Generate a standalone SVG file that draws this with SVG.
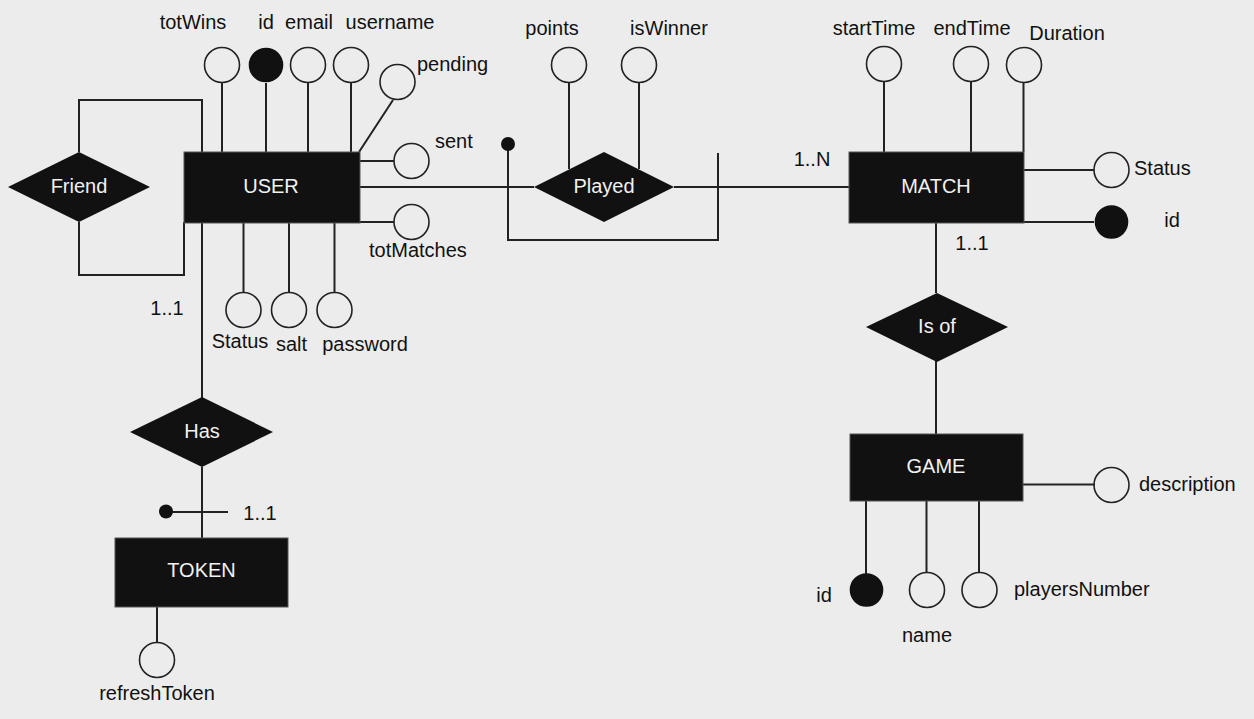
<svg xmlns="http://www.w3.org/2000/svg" width="1254" height="719" viewBox="0 0 1254 719">
<style>
.ln{stroke:#222;stroke-width:2;fill:none}
.at{fill:none;stroke:#222;stroke-width:1.6}
.key{fill:#111;stroke:#111;stroke-width:1.6}
.ent{fill:#111;stroke:#555;stroke-width:1}
.rel{fill:#111}
.w{font-family:"Liberation Sans",Arial,sans-serif;font-size:20px;fill:#f2f2f2;text-anchor:middle;dominant-baseline:central}
.t{font-family:"Liberation Sans",Arial,sans-serif;font-size:20px;fill:#111}
.m{text-anchor:middle}
</style>
<rect x="0" y="0" width="1254" height="719" fill="#ececec"/>
<g id="connectors">
<polyline class="ln" points="79,152 79,100 202,100 202,152"/>
<polyline class="ln" points="79,222 79,275 184,275 184,222"/>
<line class="ln" x1="202" y1="223" x2="202" y2="398"/>
<line class="ln" x1="202" y1="467" x2="202" y2="538"/>
<line class="ln" x1="166" y1="512" x2="228" y2="512"/>
<line class="ln" x1="360" y1="187" x2="534" y2="187"/>
<line class="ln" x1="674" y1="187" x2="849" y2="187"/>
<polyline class="ln" points="508,144 508,240 718,240 718,153"/>
<line class="ln" x1="936" y1="223" x2="936" y2="293"/>
<line class="ln" x1="936" y1="361" x2="936" y2="434"/>
</g>
<g id="friend">
<polygon class="rel" points="8,187 79,152 150,187 79,222"/>
<text class="w" x="79" y="186">Friend</text>
</g>
<g id="user">
<line class="ln" x1="222" y1="83" x2="222" y2="152"/>
<line class="ln" x1="266" y1="83" x2="266" y2="152"/>
<line class="ln" x1="308" y1="83" x2="308" y2="152"/>
<line class="ln" x1="351" y1="83" x2="351" y2="152"/>
<line class="ln" x1="359" y1="152" x2="393" y2="100"/>
<line class="ln" x1="360" y1="161" x2="394" y2="161"/>
<line class="ln" x1="360" y1="222" x2="394" y2="222"/>
<line class="ln" x1="243.5" y1="223" x2="243.5" y2="292"/>
<line class="ln" x1="289" y1="223" x2="289" y2="292"/>
<line class="ln" x1="334.5" y1="223" x2="334.5" y2="292"/>
<rect class="ent" x="184" y="152" width="176" height="71"/>
<text class="w" x="271" y="186">USER</text>
<circle class="at" cx="222" cy="65" r="17.5"/>
<circle class="key" cx="266" cy="65" r="16.5"/>
<circle class="at" cx="308" cy="65" r="17.5"/>
<circle class="at" cx="351" cy="65" r="17.5"/>
<circle class="at" cx="397.5" cy="82" r="17.5"/>
<circle class="at" cx="411.5" cy="161" r="17.5"/>
<circle class="at" cx="411.5" cy="222" r="17.5"/>
<circle class="at" cx="243.5" cy="310" r="17.5"/>
<circle class="at" cx="289" cy="310" r="17.5"/>
<circle class="at" cx="334.5" cy="310" r="17.5"/>
<text class="t m" x="193" y="29">totWins</text>
<text class="t m" x="266" y="29">id</text>
<text class="t m" x="309" y="29">email</text>
<text class="t m" x="390" y="29">username</text>
<text class="t" x="417" y="71">pending</text>
<text class="t" x="435" y="148">sent</text>
<text class="t" x="369" y="257">totMatches</text>
<text class="t m" x="240" y="348">Status</text>
<text class="t m" x="291.5" y="351">salt</text>
<text class="t m" x="365" y="351">password</text>
<text class="t m" x="167" y="315">1..1</text>
</g>
<g id="has">
<polygon class="rel" points="130,432 202,397 273,432 202,467"/>
<text class="w" x="202" y="431">Has</text>
<circle cx="166" cy="511.5" r="7" fill="#111"/>
<text class="t m" x="260" y="520">1..1</text>
</g>
<g id="token">
<line class="ln" x1="157" y1="607" x2="157" y2="642"/>
<rect class="ent" x="115" y="538" width="173" height="69"/>
<text class="w" x="201.5" y="570">TOKEN</text>
<circle class="at" cx="157" cy="660" r="17.5"/>
<text class="t m" x="157" y="700">refreshToken</text>
</g>
<g id="played">
<line class="ln" x1="569" y1="83" x2="569" y2="169"/>
<line class="ln" x1="639" y1="83" x2="639" y2="169"/>
<polygon class="rel" points="534,187 604,152 674,187 604,222"/>
<text class="w" x="604" y="186">Played</text>
<circle class="at" cx="569" cy="65" r="17.5"/>
<circle class="at" cx="639" cy="65" r="17.5"/>
<text class="t m" x="552" y="35">points</text>
<text class="t m" x="669" y="35">isWinner</text>
<circle cx="508" cy="144" r="7" fill="#111"/>
<text class="t m" x="812" y="166">1..N</text>
</g>
<g id="match">
<line class="ln" x1="884" y1="82" x2="884" y2="152"/>
<line class="ln" x1="971" y1="82" x2="971" y2="152"/>
<line class="ln" x1="1023.5" y1="83" x2="1023.5" y2="152"/>
<line class="ln" x1="1024" y1="170" x2="1094" y2="170"/>
<line class="ln" x1="1024" y1="222" x2="1094" y2="222"/>
<rect class="ent" x="849" y="152" width="175" height="71"/>
<text class="w" x="936" y="186">MATCH</text>
<circle class="at" cx="884" cy="64" r="17.5"/>
<circle class="at" cx="971" cy="64" r="17.5"/>
<circle class="at" cx="1024" cy="65" r="17.5"/>
<circle class="at" cx="1111.5" cy="170" r="17.5"/>
<circle class="key" cx="1111.5" cy="222" r="16"/>
<text class="t m" x="874" y="35">startTime</text>
<text class="t m" x="972" y="35">endTime</text>
<text class="t m" x="1067" y="40">Duration</text>
<text class="t" x="1134" y="175">Status</text>
<text class="t m" x="1172" y="227">id</text>
<text class="t m" x="972" y="250">1..1</text>
</g>
<g id="isof">
<polygon class="rel" points="866,327 937,293 1008,327 937,362"/>
<text class="w" x="937" y="326">Is of</text>
</g>
<g id="game">
<line class="ln" x1="1023" y1="484.5" x2="1095" y2="484.5"/>
<line class="ln" x1="866" y1="501" x2="866" y2="574"/>
<line class="ln" x1="926.5" y1="501" x2="926.5" y2="573"/>
<line class="ln" x1="979" y1="501" x2="979" y2="573"/>
<rect class="ent" x="850" y="434" width="173" height="67"/>
<text class="w" x="936" y="466">GAME</text>
<circle class="at" cx="1111.5" cy="485" r="17.5"/>
<circle class="key" cx="866.5" cy="590" r="16"/>
<circle class="at" cx="927" cy="590" r="17.5"/>
<circle class="at" cx="979.5" cy="590" r="17.5"/>
<text class="t" x="1139" y="491">description</text>
<text class="t m" x="824" y="602">id</text>
<text class="t m" x="927" y="642">name</text>
<text class="t" x="1014" y="596">playersNumber</text>
</g>
</svg>
